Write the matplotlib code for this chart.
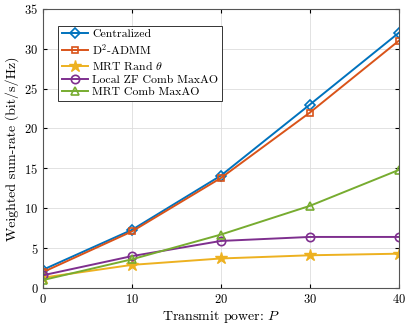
import numpy as np
import matplotlib.pyplot as plt

plt.rcParams['font.family'] = 'cmr10'
plt.rcParams['mathtext.fontset'] = 'cm'
plt.rcParams['axes.formatter.use_mathtext'] = True

power = [0, 10, 20, 30, 40]
centralized = [2.3, 7.3, 14.1, 23.0, 32.0]
d2_admm = [2.0, 7.1, 13.8, 22.0, 31.0]
mrt_rand = [1.3, 2.9, 3.7, 4.1, 4.3]
local_zf = [1.6, 4.0, 5.9, 6.4, 6.4]
mrt_comb = [1.0, 3.6, 6.7, 10.3, 14.8]

fig = plt.figure(figsize=(4.15, 3.28), dpi=100)
ax = fig.add_axes([0.104, 0.122, 0.857, 0.851])

series = [
    (centralized, 'Centralized', '#0072BD', 'D', 5),
    (d2_admm, r'D$^2$-ADMM', '#D95319', 's', 5),
    (mrt_rand, r'MRT Rand $\theta$', '#EDB120', '*', 9),
    (local_zf, 'Local ZF Comb MaxAO', '#7E2F8E', 'o', 6),
    (mrt_comb, 'MRT Comb MaxAO', '#77AC30', '^', 6),
]
for vals, lab, col, mk, ms in series:
    if mk == '*':
        ax.plot(power, vals, color=col, marker=mk, ms=ms, lw=1.4, label=lab)
    else:
        ax.plot(power, vals, color=col, marker=mk, ms=ms, lw=1.4,
                mfc='none', mew=1.2, label=lab)

ax.set_xlim(0, 40)
ax.set_ylim(0, 35)
ax.set_xticks(np.arange(0, 41, 10))
ax.set_yticks(np.arange(0, 36, 5))
ax.grid(True, color='#dddddd', lw=0.6)
ax.tick_params(direction='in', labelsize=9, length=3, top=True, right=True)
for s in ax.spines.values():
    s.set_color('#555555')
ax.set_xlabel('Transmit power: $P$', fontsize=10, labelpad=2)
ax.set_ylabel('Weighted sum-rate (bit/s/Hz)', fontsize=10, labelpad=4)

leg = ax.legend(loc='upper left', bbox_to_anchor=(0.042, 0.94), fontsize=8.5,
                fancybox=False, edgecolor='#333333', framealpha=1,
                borderaxespad=0, handlelength=2.2, borderpad=0.3,
                labelspacing=0.2, handletextpad=0.4)
leg.get_frame().set_linewidth(0.7)

fig.savefig('out.png', dpi=100)
